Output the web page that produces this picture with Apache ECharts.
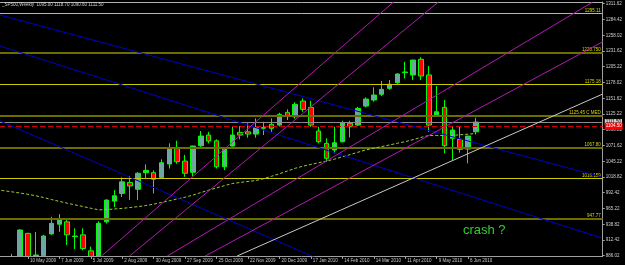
<!DOCTYPE html>
<html><head><meta charset="utf-8">
<script src="https://cdn.jsdelivr.net/npm/echarts@6/dist/echarts.min.js"></script>
<style>html,body{margin:0;padding:0;background:#000;}#c{width:625px;height:265px;}</style>
</head><body><div id="c"></div>
<script>
// weekly candles, index 0 = week of 12 Apr 2009
const open  = [857,868,866,877.5,923.5,885,886,922.5,939,943,918,921,894,880,943,978,991,1009.5,998,1026,1026,1018,1040.6,1068,1045.6,1026.6,1071.5,1089.5,1079.9,1036,1070.9,1094,1095,1091.2,1101,1107.6,1106.4,1127.9,1120.4,1146.9,1136.3,1096.3,1075.5,1064.2,1078.2,1109.3,1106.4,1138.5,1148.7,1158.3,1168.4,1177.9,1195,1190.9,1217.4,1191,1123.3,1136.3,1084,1082.3,1065.9,1095];
const high  = [875.6,868,889,930.5,924.5,926,921,951.5,956,946,932,932,901,944,981,996.6,1018,1020,1027,1040,1030,1048.5,1075.5,1080,1056,1071.5,1096.3,1095,1082.3,1068.5,1104.7,1104.7,1109.3,1117.7,1112,1117.7,1127.2,1133,1145,1151.5,1147.5,1103.5,1084,1103.5,1113.7,1113.7,1137.3,1153.2,1170.1,1180.7,1182.4,1194,1213.3,1216.5,1220.8,1206,1172.3,1148.7,1103.5,1104.7,1088,1118.7];
const low   = [836.9,826.8,847,875,878,879,879,921,926,904,897,895,869,875,940,968,985,980,979.7,1016,991,1017,1033,1041,1019,1020,1067,1075.5,1033,1030.4,1070,1082.3,1085,1085,1089.5,1095,1104,1115,1117,1128.9,1103.5,1075.5,1044.4,1058.6,1077,1085.6,1105,1136.3,1145.8,1155.4,1166,1176,1185.3,1182.4,1182.4,1095,1122,1058.6,1047.3,1060,1041.7,1090.6];
const close = [869.6,866.2,877.5,929.2,882.9,887,919,940.4,946,921,919,898,879,940.4,979.7,987,1010.5,1003.5,1025,1030,1015,1042.8,1068.1,1044.4,1025,1071,1087.8,1079.4,1036,1068.1,1089.5,1089.5,1091.2,1102,1102,1100.9,1124.5,1122.1,1141.4,1132.9,1106.4,1078.2,1050.2,1076.6,1110.3,1103.5,1134.6,1150.3,1157.1,1166.7,1175.2,1192.6,1196,1216.2,1189.2,1106.4,1128.9,1071.5,1098,1065.4,1087.8,1111.5];
const movingAvg = [997.5,995.4,993.6,991.6,989.5,987.0,984.0,980.7,977.5,974.5,971.6,968.9,966.0,963.2,963.7,964.7,965.7,967.1,968.7,970.4,972.8,975.7,978.5,981.6,984.5,988.2,992.4,996.5,1000.2,1004.1,1007.6,1009.5,1011.2,1012.8,1015.9,1019.9,1024.2,1028.7,1033.4,1037.0,1039.9,1042.7,1045.6,1048.8,1052.7,1056.6,1060.6,1064.4,1067.2,1070.1,1072.8,1075.7,1078.4,1081.8,1085.5,1088.7,1088.7,1088.7,1088.9,1090.0,1091.0,1092.2];

const dateLabels = ['12 Apr 2009','10 May 2009','7 Jun 2009','5 Jul 2009','2 Aug 2009','30 Aug 2009','27 Sep 2009','25 Oct 2009','22 Nov 2009','20 Dec 2009','17 Jan 2010','14 Feb 2010','14 Mar 2010','11 Apr 2010','9 May 2010','6 Jun 2010'];
const dateLabelWeeks = [0,4,8,12,16,20,24,28,32,36,40,44,48,52,56,60];
const priceTicks = [886.02,912.42,938.82,965.22,992.42,1018.82,1045.22,1071.62,1098.82,1125.22,1151.62,1178.02,1205.22,1231.62,1258.02,1284.42,1311.62];

const levelValues = [1295.11,1228.75,1175.18,1122.0,1067.80,1016.159,947.77,881.35];
const levelTexts  = ['1295.11','1228.750','1175.18','1125.45 C MED','1067.80','1016.159','947.77','881.350'];
const bidPrice = 1111.50;
const redLinePrice = 1104.50;

// trend lines: [weekIndex, price] anchor pairs
const blueLines = [
  [[0.451,1292.2],[77.0,1018.7]],
  [[0.451,1239.9],[77.0,915.7]],
  [[0.451,1113.2],[45,857.3]]
];
const magentaLines = [
  [[13.38,885.3],[50.51,1314.2]],
  [[16.93,885.3],[56.22,1314.2]],
  [[21.74,885.3],[75.86,1314.2]],
  [[26.56,885.3],[77.13,1247.1]]
];
const greyLine = [[30.62,885.3],[77.13,1158.8]];
const noteText = 'crash ?';
const notePoint = [62.05, 928.2];
const titleText = '_SP500,Weekly  1095.00 1118.70 1090.60 1111.50';

// styles
const FONT = 'Liberation Sans';
const levelStyle = [
  {c:'#cccc00', w:1}, {c:'#6e6e00', w:2}, {c:'#cccc00', w:1}, {c:'#6e6e00', w:2},
  {c:'#6e6e00', w:2}, {c:'#cccc00', w:1}, {c:'#6e6e00', w:2}, {c:'#cccc00', w:0}
];

const chart = echarts.init(document.getElementById('c'), null, {renderer:'canvas'});

const markLineData = levelValues.map((v, k) => ({
  yAxis: v,
  lineStyle: {color: levelStyle[k].c, width: levelStyle[k].w, type: 'solid', opacity: levelStyle[k].w ? 1 : 0},
  label: {show: true, formatter: levelTexts[k], position: 'insideEndTop', color: '#d8d800',
          fontSize: 4.5, fontFamily: FONT, distance: [2, 0.5]}
}));
markLineData.push({
  yAxis: bidPrice,
  lineStyle: {color: '#8c8c8c', width: 1, type: 'solid'},
  label: {show: true, formatter: bidPrice.toFixed(2), position: 'end', distance: 2,
          color: '#000', backgroundColor: '#d0d0d0', padding: [0.5, 1], fontSize: 4.5, fontFamily: FONT}
});
markLineData.push({
  yAxis: redLinePrice,
  lineStyle: {color: '#d00000', width: 1, type: [5, 3]},
  label: {show: true, formatter: redLinePrice.toFixed(2), position: 'end', distance: 2,
          color: '#fff', backgroundColor: '#ff0000', padding: [1, 1], fontSize: 4.5, fontFamily: FONT}
});

function trendSeries(pts, color) {
  return {type: 'line', data: pts, symbol: 'none', clip: true, silent: true, z: 5,
          lineStyle: {color: color, width: 1}, animation: false};
}

const series = [
  {
    type: 'candlestick',
    data: open.map((o, i) => [i, o, close[i], low[i], high[i]]),
    barWidth: 5,
    clip: true,
    z: 2,
    itemStyle: {color: '#6ea4a4', color0: '#ff0000', borderColor: '#00ff00', borderColor0: '#00ff00', borderWidth: 1},
    markPoint: {
      symbol: 'circle', symbolSize: 0, silent: true, animation: false,
      data: [{coord: notePoint, label: {show: true, formatter: noteText, color: '#33cc33', fontSize: 13, fontFamily: FONT}}]
    },
    animation: false
  },
  {
    type: 'line',
    data: movingAvg.map((v, i) => [i, v]),
    symbol: 'none', clip: true, silent: true, z: 5,
    lineStyle: {color: '#9acd32', width: 1, type: [3, 2]},
    markLine: {symbol: ['none', 'none'], silent: true, animation: false, data: markLineData},
    animation: false
  }
];
blueLines.forEach(p => series.push(trendSeries(p, '#0000c8')));
magentaLines.forEach(p => series.push(trendSeries(p, '#b31bb3')));
series.push(trendSeries(greyLine, '#c8c8c8'));

chart.setOption({
  backgroundColor: '#000',
  animation: false,
  title: {text: titleText, left: 2, top: 2.5, padding: 0,
          textStyle: {color: '#d0d0d0', fontSize: 4.5, fontWeight: 'normal', fontFamily: FONT}},
  grid: {left: 0, right: 20, top: 2, bottom: 9, containLabel: false},
  xAxis: [{
    type: 'value', min: 0.451, max: 77.13, position: 'bottom', z: 4,
    axisLine: {show: true, lineStyle: {color: '#a0a0a0', width: 1}},
    axisTick: {show: true, customValues: dateLabelWeeks, length: 3, lineStyle: {color: '#a0a0a0'}},
    axisLabel: {show: true, customValues: dateLabelWeeks, align: 'left', margin: 2, padding: [0, 0, 0, 2],
                color: '#c8c8c8', fontSize: 4.5, fontFamily: FONT,
                formatter: v => dateLabels[dateLabelWeeks.indexOf(Math.round(v))] || ''},
    splitLine: {show: false}
  }, {
    type: 'value', min: 0.451, max: 77.13, position: 'top', z: 4,
    axisLine: {show: true, lineStyle: {color: '#b0b0b0', width: 1}},
    axisTick: {show: false}, axisLabel: {show: false}, splitLine: {show: false}
  }],
  yAxis: {
    type: 'value', position: 'right', offset: 0, min: 885.3, max: 1314.2, z: 4,
    axisLine: {show: true, lineStyle: {color: '#a0a0a0', width: 1}},
    axisTick: {show: true, customValues: priceTicks, length: 2, lineStyle: {color: '#a0a0a0'}},
    axisLabel: {show: true, customValues: priceTicks, margin: 3, color: '#d0d0d0', fontSize: 4.5, fontFamily: FONT,
                formatter: v => v.toFixed(2)},
    splitLine: {show: false}
  },
  graphic: [{type: 'rect', shape: {x: 0, y: 256.5, width: 605, height: 9}, style: {fill: '#000'}, z: 3, silent: true}],
  series: series
});
</script></body></html>
